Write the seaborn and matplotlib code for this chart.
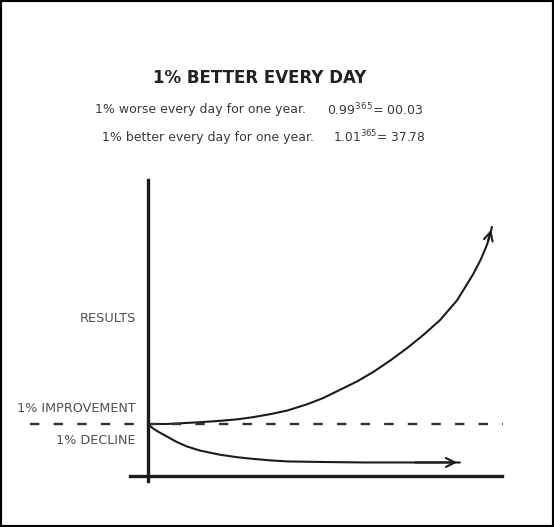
import numpy as np
import pandas as pd
import matplotlib.pyplot as plt
import seaborn as sns

# values (day of the year, relative results; 1.0 = starting level)
better_days = [0, 20, 41, 60, 76, 95, 111, 130, 148, 169, 186, 204, 222, 239, 257, 275, 292, 310, 328, 345, 353, 360, 365]
better_results = [1.00, 1.00, 1.02, 1.04, 1.06, 1.09, 1.13, 1.19, 1.26, 1.38, 1.50, 1.66, 1.82, 2.00, 2.22, 2.46, 2.71, 3.00, 3.38, 3.88, 4.16, 4.46, 4.79]
worse_days = [0, 5, 10, 16, 23, 31, 41, 55, 76, 95, 111, 130, 148, 183, 230, 280, 331]
worse_results = [1.00, 0.92, 0.86, 0.80, 0.73, 0.65, 0.57, 0.49, 0.41, 0.36, 0.33, 0.30, 0.28, 0.27, 0.26, 0.26, 0.26]
baseline = 1.0
baseline_span = [-125, 377]

title = '1% BETTER EVERY DAY'
worse_text = '1% worse every day for one year.'
better_text = '1% better every day for one year.'
worse_formula = r'0.99$^{365}$= 00.03'
better_formula = r'1.01$^{365}$= 37.78'

df = pd.concat([
    pd.DataFrame({'day': better_days, 'results': better_results, 'series': 'better'}),
    pd.DataFrame({'day': worse_days, 'results': worse_results, 'series': 'worse'}),
])

sns.set_style('white')
plt.rcParams['font.family'] = ['DejaVu Sans']
plt.rcParams['mathtext.default'] = 'regular'

ink = '#1c1c1c'
fig = plt.figure(figsize=(5.54, 5.27), dpi=100)
ax = fig.add_axes([0, 0, 1, 1])
ax.set_facecolor('white')

sns.lineplot(data=df, x='day', y='results', units='series', estimator=None,
             color=ink, linewidth=1.5, sort=False, ax=ax)

# arrow heads at the end of each curve
for d, r in [(better_days, better_results), (worse_days, worse_results)]:
    ax.annotate('', xy=(d[-1], r[-1]), xytext=(d[-2], r[-2]),
                arrowprops=dict(arrowstyle='->', color=ink, lw=1.5, mutation_scale=16))

ax.hlines(baseline, baseline_span[0], baseline_span[1], color='#333333',
          linewidth=1.7, linestyle=(0, (4, 6)))

ax.set_xlim(-157.0, 430.8)
ax.set_ylim(-0.981, 9.154)
ax.spines['top'].set_visible(False)
ax.spines['right'].set_visible(False)
for s in ['left', 'bottom']:
    ax.spines[s].set_position(('data', 0))
    ax.spines[s].set_linewidth(2.4)
    ax.spines[s].set_color(ink)
ax.spines['left'].set_bounds(-0.10, 5.69)
ax.spines['bottom'].set_bounds(-19, 376)
ax.set_xticks([])
ax.set_yticks([])
ax.set_xlabel('')
ax.set_ylabel('')

W, H = 554, 527
fig.text(260 / W, 1 - 78 / H, title, ha='center', va='center',
         fontsize=12, fontweight='bold', color='#222222')
fig.text(95 / W, 1 - 110 / H, worse_text, ha='left', va='center', fontsize=9, color='#3a3a3a')
fig.text(327 / W, 1 - 110 / H, worse_formula, ha='left', va='center', fontsize=9, color='#3a3a3a')
fig.text(102 / W, 1 - 137 / H, better_text, ha='left', va='center', fontsize=9, color='#3a3a3a')
fig.text(333 / W, 1 - 137 / H, better_formula, ha='left', va='center', fontsize=8.7, color='#3a3a3a')

fig.text(136 / W, 1 - 318 / H, 'RESULTS', ha='right', va='center', fontsize=9.3, color='#505050')
fig.text(136 / W, 1 - 408 / H, '1% IMPROVEMENT', ha='right', va='center', fontsize=9.2, color='#505050')
fig.text(136 / W, 1 - 440 / H, '1% DECLINE', ha='right', va='center', fontsize=9.2, color='#505050')

fig.add_artist(plt.Rectangle((0, 0), 1, 1, transform=fig.transFigure,
                             fill=False, edgecolor='black', linewidth=3))

fig.savefig('out.png', dpi=100)
